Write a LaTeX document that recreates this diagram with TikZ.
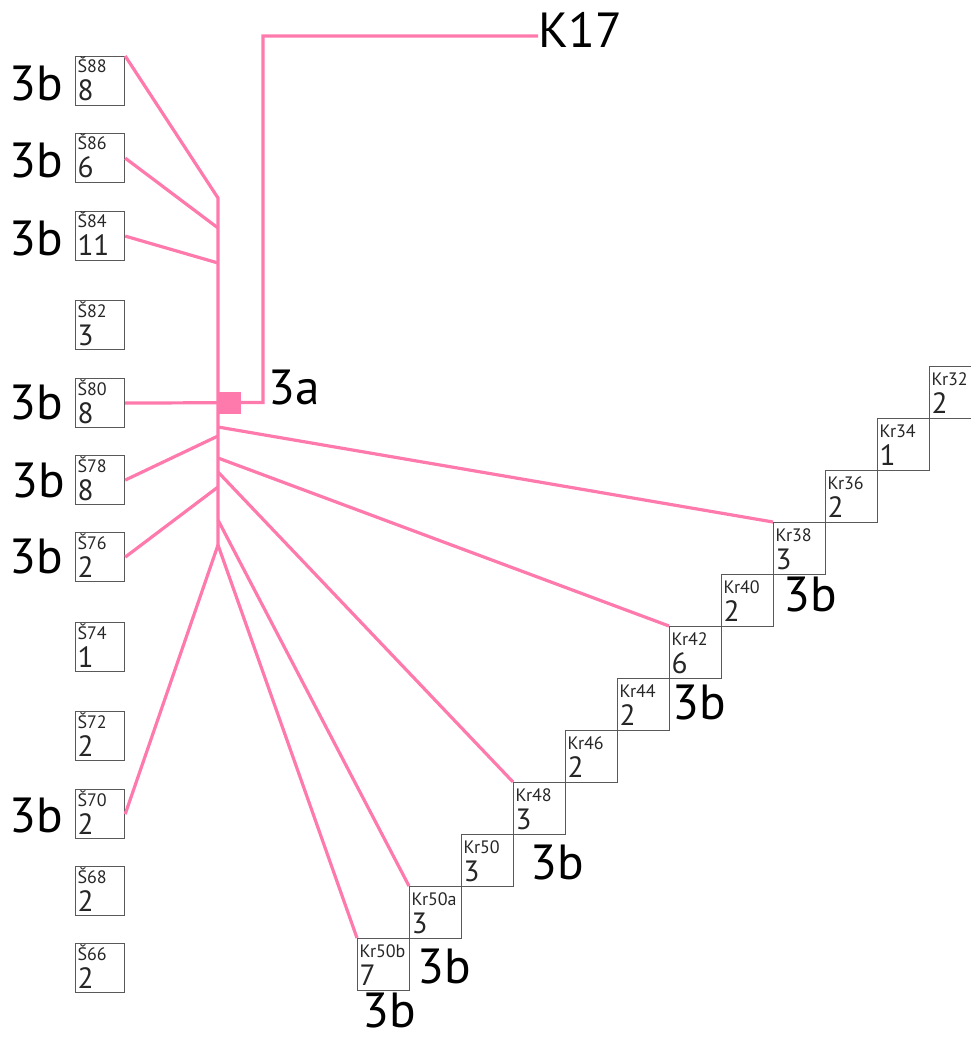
\documentclass[tikz,border=0pt]{standalone}
\usepackage{fontspec}
\setmainfont{PT Sans}
\definecolor{linkpink}{RGB}{255,122,172}
\tikzset{
	cell/.style={draw=black!65, line width=0.9pt, inner sep=0pt, anchor=north west},
	scell/.style={cell, minimum size=36.75pt},
	kcell/.style={cell, minimum size=39pt},
	tag/.style={inner sep=0pt, anchor=base west, text=black!85, font=\fontsize{13.5}{13.5}\selectfont},
	count/.style={inner sep=0pt, anchor=base west, text=black!85, font=\fontsize{22}{22}\selectfont},
	biglabel/.style={inner sep=0pt, font=\fontsize{37}{37}\selectfont},
	link/.style={draw=linkpink, line width=2.4pt}}
\tikzset{every picture/.style={line width=0.75pt}}
\begin{document}
\begin{tikzpicture}[x=0.75pt,y=0.75pt,yscale=-1,xscale=1]
	\useasboundingbox (0,0) rectangle (970,1037);

	%Cells: left column
	\node[scell] (s88) at (75,56) {};   \node[tag] (s88t) at (77,73) {Š88};   \node[count] (s88n) at (77,101) {8};
	\node[scell] (s86) at (75,133) {};  \node[tag] (s86t) at (77,150) {Š86};  \node[count] (s86n) at (77,178) {6};
	\node[scell] (s84) at (75,211) {};  \node[tag] (s84t) at (77,228) {Š84};  \node[count] (s84n) at (77,256) {11};
	\node[scell] (s82) at (75,300) {};  \node[tag] (s82t) at (77,317) {Š82};  \node[count] (s82n) at (77,345) {3};
	\node[scell] (s80) at (75,378) {};  \node[tag] (s80t) at (77,395) {Š80};  \node[count] (s80n) at (77,423) {8};
	\node[scell] (s78) at (75,455) {};  \node[tag] (s78t) at (77,472) {Š78};  \node[count] (s78n) at (77,500) {8};
	\node[scell] (s76) at (75,532) {};  \node[tag] (s76t) at (77,549) {Š76};  \node[count] (s76n) at (77,577) {2};
	\node[scell] (s74) at (75,622) {};  \node[tag] (s74t) at (77,639) {Š74};  \node[count] (s74n) at (77,667) {1};
	\node[scell] (s72) at (75,711) {};  \node[tag] (s72t) at (77,728) {Š72};  \node[count] (s72n) at (77,756) {2};
	\node[scell] (s70) at (75,789) {};  \node[tag] (s70t) at (77,806) {Š70};  \node[count] (s70n) at (77,834) {2};
	\node[scell] (s68) at (75,866) {};  \node[tag] (s68t) at (77,883) {Š68};  \node[count] (s68n) at (77,911) {2};
	\node[scell] (s66) at (75,943) {};  \node[tag] (s66t) at (77,960) {Š66};  \node[count] (s66n) at (77,988) {2};

	%Cells: staircase
	\node[kcell] (k32) at (929,366) {};  \node[tag] (k32t) at (931,385) {Kr32};   \node[count] (k32n) at (931,413) {2};
	\node[kcell] (k34) at (877,418) {};  \node[tag] (k34t) at (879,437) {Kr34};   \node[count] (k34n) at (879,465) {1};
	\node[kcell] (k36) at (825,470) {};  \node[tag] (k36t) at (827,489) {Kr36};   \node[count] (k36n) at (827,517) {2};
	\node[kcell] (k38) at (773,522) {};  \node[tag] (k38t) at (775,541) {Kr38};   \node[count] (k38n) at (775,569) {3};
	\node[kcell] (k40) at (721,574) {};  \node[tag] (k40t) at (723,593) {Kr40};   \node[count] (k40n) at (723,621) {2};
	\node[kcell] (k42) at (669,626) {};  \node[tag] (k42t) at (671,645) {Kr42};   \node[count] (k42n) at (671,673) {6};
	\node[kcell] (k44) at (617,678) {};  \node[tag] (k44t) at (619,697) {Kr44};   \node[count] (k44n) at (619,725) {2};
	\node[kcell] (k46) at (565,730) {};  \node[tag] (k46t) at (567,749) {Kr46};   \node[count] (k46n) at (567,777) {2};
	\node[kcell] (k48) at (513,782) {};  \node[tag] (k48t) at (515,801) {Kr48};   \node[count] (k48n) at (515,829) {3};
	\node[kcell] (k50) at (461,834) {};  \node[tag] (k50t) at (463,853) {Kr50};   \node[count] (k50n) at (463,881) {3};
	\node[kcell] (k50a) at (409,886) {}; \node[tag] (k50at) at (411,905) {Kr50a}; \node[count] (k50an) at (411,933) {3};
	\node[kcell] (k50b) at (357,938) {}; \node[tag] (k50bt) at (359,957) {Kr50b}; \node[count] (k50bn) at (359,985) {7};

	%Trunk points
	\coordinate (t0) at (218,198);
	\coordinate (t86) at (218,228);
	\coordinate (t84) at (218,263);
	\coordinate (t80) at (218,402.5);
	\coordinate (t38) at (218,427);
	\coordinate (t78) at (218,436);
	\coordinate (t42) at (218,458);
	\coordinate (t48) at (218,472);
	\coordinate (t76) at (218,487);
	\coordinate (t50a) at (218,520);
	\coordinate (t1) at (218,545);
	\coordinate (bendlow) at (263,402.5);
	\coordinate (bendhigh) at (263,36);

	% Text Node
	\node[biglabel, anchor=west] (k17) at (538,30) {K17};
	% Text Node
	\node[biglabel, anchor=west] (l3a) at (268,388) {3a};

	%Pink links
	\draw[link] (s88.north east) -- (t0) -- (t1);
	\draw[link] (s86.east) -- (t86);
	\draw[link] (s84.east) -- (t84);
	\draw[link] (s80.east) -- (bendlow) -- (bendhigh) -- (bendhigh -| k17.west);
	\draw[link] (s78.east) -- (t78);
	\draw[link] (s76.east) -- (t76);
	\draw[link] (s70.east) -- (t1);
	\draw[link] (t38) -- (k38.north west);
	\draw[link] (t42) -- (k42.north west);
	\draw[link] (t48) -- (k48.north west);
	\draw[link] (t50a) -- (k50a.north west);
	\draw[link] (t1) -- (k50b.north west);
	%Shape: Square
	\node[fill=linkpink, minimum size=16.5pt, inner sep=0pt, anchor=west] (sq) at (t80) {};

	% Text Nodes: 3b marks
	\node[biglabel, anchor=east] (m88) at (64,84) {3b};
	\node[biglabel, anchor=east] (m86) at (64,161) {3b};
	\node[biglabel, anchor=east] (m84) at (64,239) {3b};
	\node[biglabel, anchor=east] (m80) at (64,403) {3b};
	\node[biglabel, anchor=east] (m78) at (66,481) {3b};
	\node[biglabel, anchor=east] (m76) at (64,557) {3b};
	\node[biglabel, anchor=east] (m70) at (64,816) {3b};
	\node[biglabel, anchor=west] (m38) at (783,595) {3b};
	\node[biglabel, anchor=west] (m42) at (672,703) {3b};
	\node[biglabel, anchor=west] (m48) at (530,863) {3b};
	\node[biglabel, anchor=west] (m50b) at (417,967) {3b};
	\node[biglabel, anchor=west] (m50c) at (362,1011) {3b};
\end{tikzpicture}
\end{document}
